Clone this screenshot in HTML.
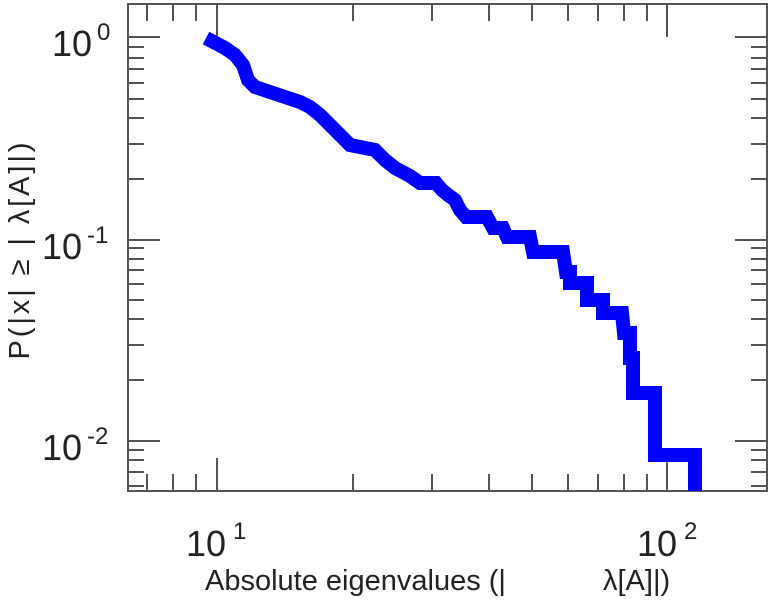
<!DOCTYPE html>
<html><head><meta charset="utf-8"><style>
html,body{margin:0;padding:0;background:#fff;}
svg{display:block;}
text{font-family:"Liberation Sans","DejaVu Sans",sans-serif;fill:#222;}
</style></head><body>
<svg width="775" height="600" viewBox="0 0 775 600" xmlns="http://www.w3.org/2000/svg">
<g stroke="#555" stroke-width="2" fill="none">
<rect x="128" y="4" width="639" height="487"/>
<path d="M128 37h32M128 240h32M128 441h32M767 37h-32M767 240h-32M767 441h-32"/>
<path d="M128 179h16M128 144h16M128 118h16M128 99h16M128 83h16M128 69h16M128 58h16M128 47h16
M128 380h16M128 345h16M128 319h16M128 300h16M128 284h16M128 270h16M128 259h16M128 248h16
M128 486h16M128 472h16M128 460h16M128 450h16
M767 179h-16M767 144h-16M767 118h-16M767 99h-16M767 83h-16M767 69h-16M767 58h-16M767 47h-16
M767 380h-16M767 345h-16M767 319h-16M767 300h-16M767 284h-16M767 270h-16M767 259h-16M767 248h-16
M767 486h-16M767 472h-16M767 460h-16M767 450h-16"/>
<path d="M217 491v-33M667 491v-33M217 4v33M667 4v33"/>
<path d="M147 491v-17M173 491v-17M196 491v-17M353 491v-17M432 491v-17M489 491v-17M532 491v-17M568 491v-17M598 491v-17M624 491v-17M647 491v-17
M147 4v17M173 4v17M196 4v17M353 4v17M432 4v17M489 4v17M532 4v17M568 4v17M598 4v17M624 4v17M647 4v17"/>
</g>
<path fill="none" stroke="#0000ff" stroke-width="14" stroke-linejoin="miter" stroke-linecap="butt"
d="M206 38 L225 48 L235 55 L243 65 L248 80 L255 87 L270 92 L285 97 L300 102 L310 107 L320 115 L330 125 L340 135 L350 145 L365 148 L375 150 L385 160 L395 168 L410 176 L420 183 L436 183 L442 190 L448 195 L455 200 L460 210 L466 217 L487 217 L493 228 L503 228 L507 237 L530 237 L533 252 L563 252 L566 272 L570 272 L570 283 L587 283 L587 300 L603 300 L603 313 L622 313 L624 333 L630 333 L630 358 L633 358 L633 393 L655 393 L655 455 L695 455 L695 491"/>
<text x="52" y="56" font-size="36">10</text><text x="97" y="40" font-size="24">0</text>
<text x="42" y="259" font-size="36">10</text><text x="87" y="243" font-size="24">-1</text>
<text x="42" y="460" font-size="36">10</text><text x="87" y="444" font-size="24">-2</text>
<text x="186" y="556" font-size="36">10</text><text x="233" y="539" font-size="24">1</text>
<text x="637" y="556" font-size="36">10</text><text x="684" y="539" font-size="24">2</text>
<text x="205" y="590" font-size="29">Absolute eigenvalues (|</text>
<text x="603" y="590" font-size="29">λ[A]|)</text>
<text transform="translate(29,251) rotate(-90)" text-anchor="middle" font-size="29" textLength="217" lengthAdjust="spacing">P(|x|  ≥ | λ[A]|)</text>
</svg>
</body></html>
